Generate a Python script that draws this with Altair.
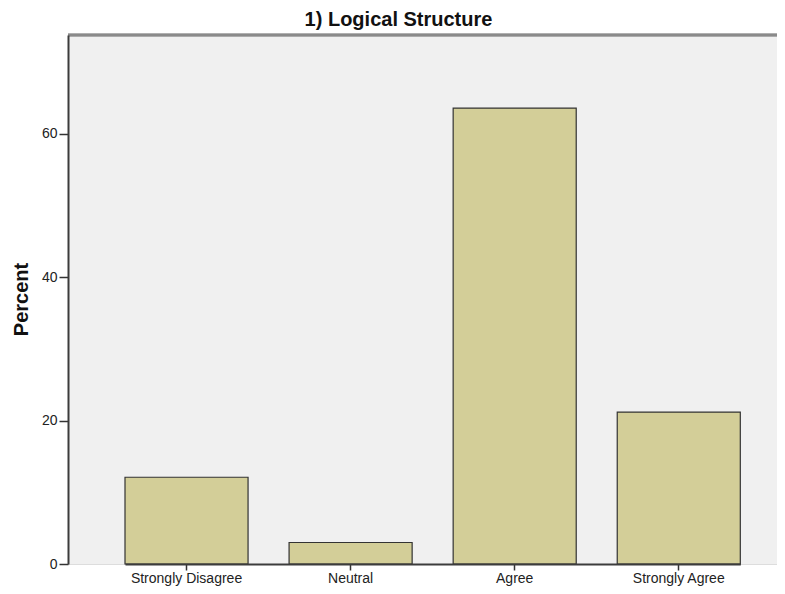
import altair as alt
import pandas as pd

categories = ["Strongly Disagree", "Neutral", "Agree", "Strongly Agree"]
percents = [12.1, 3.0, 63.6, 21.2]
y_ticks = [0, 20, 40, 60]

df = pd.DataFrame({"category": categories, "percent": percents})

W = 709
H = 529

background = alt.Chart(df).mark_rect(fill="#f0f0f0").encode(
    x=alt.value(0), x2=alt.value(W), y=alt.value(0), y2=alt.value(H)
)

bars = alt.Chart(df).mark_bar(
    fill="#d3ce98", stroke="#333333", strokeWidth=1.2
).encode(
    x=alt.X("category:N", sort=categories,
            scale=alt.Scale(range=[57, 672.3], paddingInner=0.25, paddingOuter=0),
            axis=alt.Axis(title=None, labelAngle=0, labelFontSize=14, labelFont="Liberation Sans",
                          labelColor="#222222", tickSize=6, tickColor="#333333", tickWidth=1.5,
                          domainColor="#3c3c3c", domainWidth=2, labelPadding=1, zindex=2)),
    y=alt.Y("percent:Q",
            scale=alt.Scale(domain=[0, 73.8], nice=False, zero=True),
            axis=alt.Axis(title="Percent", values=y_ticks, grid=False, zindex=2,
                          labelFontSize=14, labelFont="Liberation Sans", labelColor="#222222",
                          tickSize=9, tickColor="#333333", tickWidth=1.5, labelPadding=2,
                          domainColor="#3c3c3c", domainWidth=2,
                          titleFontSize=20, titleFont="Liberation Sans", titleFontWeight="bold",
                          titleColor="#111111", titleAngle=-90, titleX=-41, titleY=264,
                          titleAlign="center", titleBaseline="alphabetic")),
)

top_border = alt.Chart(df).mark_rule(color="#8a8a8a", strokeWidth=2.5).encode(
    x=alt.value(0), x2=alt.value(W), y=alt.value(0)
)

chart = alt.layer(background, bars, top_border).properties(
    width=W, height=H,
    autosize=alt.AutoSizeParams(type="none"),
    padding={"left": 60, "top": 27, "right": 0, "bottom": 22},
    title=alt.TitleParams("1) Logical Structure", fontSize=20, font="Liberation Sans",
                          fontWeight="bold", color="#111111", anchor="middle", dx=-24,
                          offset=4),
).configure_view(
    stroke=None
).configure(background="white")

chart.save("out.html", embed_options={"renderer": "svg", "actions": False})
